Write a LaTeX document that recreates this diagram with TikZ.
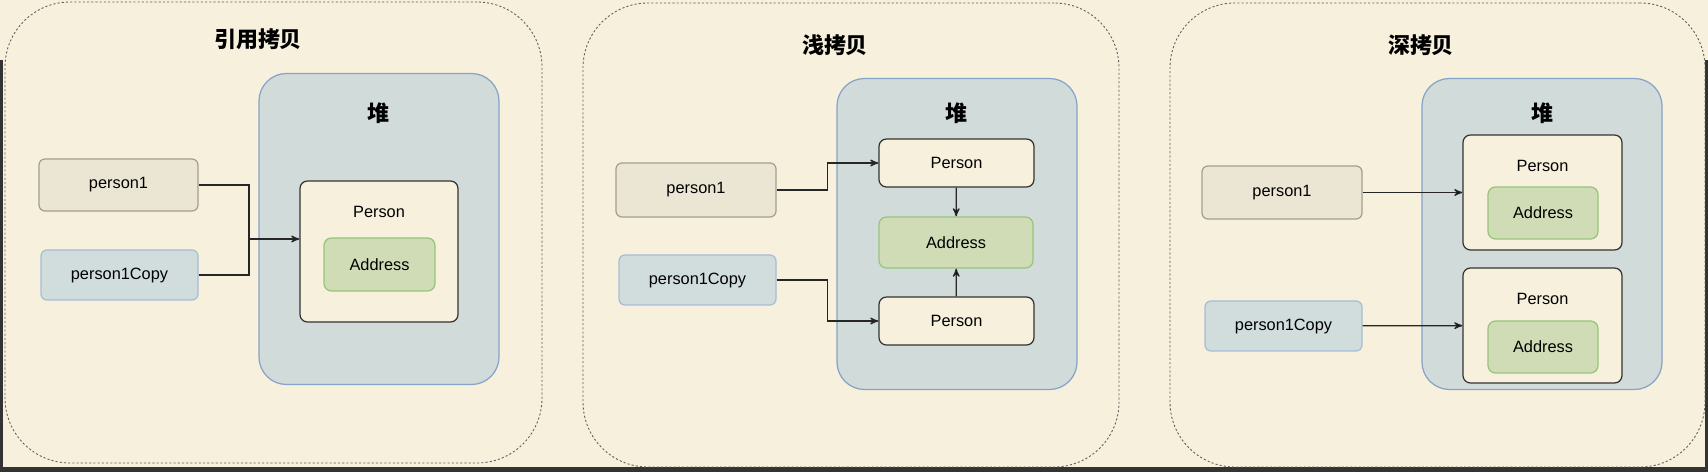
\documentclass[tikz,border=0pt]{standalone}
\usepackage{fontspec}
\setmainfont{Liberation Sans}
\newfontfamily\cjk{Noto Sans CJK SC}
\usetikzlibrary{arrows}
\definecolor{paper}{HTML}{F6F0DC}
\definecolor{edgegray}{HTML}{5E5E5E}
\definecolor{varfill}{HTML}{EBE6D4}
\definecolor{vardraw}{HTML}{A39E90}
\definecolor{copyfill}{HTML}{D1DCDD}
\definecolor{copydraw}{HTML}{A7BDD6}
\definecolor{heapfill}{HTML}{D1DBDA}
\definecolor{heapdraw}{HTML}{86A3C8}
\definecolor{addrfill}{HTML}{D0DCB6}
\definecolor{addrdraw}{HTML}{97C47B}

\begin{document}
\begin{tikzpicture}[>=stealth',x=0.02cm,y=-0.02cm,
	every node/.style={font=\fontsize{9.3}{11}\selectfont},
	box/.style 2 args={minimum width=#1*0.02cm,minimum height=#2*0.02cm,inner sep=0pt,line width=0.7pt},
	frame/.style 2 args={box={#1}{#2},draw=edgegray,dash pattern=on 1.2pt off 1.2pt,rounded corners=1.3cm,line width=0.5pt},
	heap/.style={box={240}{311},draw=heapdraw,fill=heapfill,rounded corners=0.55cm},
	var/.style 2 args={box={#1}{#2},draw=vardraw,fill=varfill,rounded corners=0.12cm},
	cpy/.style 2 args={box={#1}{#2},draw=copydraw,fill=copyfill,rounded corners=0.12cm},
	obj/.style 2 args={box={#1}{#2},draw=black!80,fill=paper,rounded corners=0.15cm},
	addr/.style 2 args={box={#1}{#2},draw=addrdraw,fill=addrfill,rounded corners=0.15cm},
	title/.style={font=\cjk\bfseries\fontsize{12.5}{14}\selectfont},
	link/.style={->,line width=0.7pt,draw=black!85}]
	\useasboundingbox (0,0) rectangle (1708,472);
	\fill[paper] (0,0) rectangle (1708,472);
	\fill[black!80] (0,467) rectangle (1708,472);
	\fill[black!80] (0,60) rectangle (3,472);
	\fill[black!80] (1705,60) rectangle (1708,472);

	% reference copy
	\node[frame={537}{461}] (frame1) at (273.5,232.5) {};
	\node[title] (title1) at (258,39) {引用拷贝};
	\node[heap] (heap1) at (379,229) {};
	\node[title] (heapt1) at (378,113) {堆};
	\node[var={159}{52}] (p1) at (118.5,185) {person1};
	\node[cpy={157}{50}] (c1) at (119.5,275) {person1Copy};
	\node[obj={158}{141}] (obj1) at (379,251.5) {};
	\node (objt1) at (379,212) {Person};
	\node[addr={111}{53}] (ad1) at (379.5,264.5) {Address};
	\coordinate (j1) at (249,239);
	\draw[line width=0.7pt,draw=black!85] (p1.east) -| (j1);
	\draw[line width=0.7pt,draw=black!85] (c1.east) -| (j1);
	\draw[link] (j1) -- (j1 -| obj1.west);

	% shallow copy
	\node[frame={536}{464}] (frame2) at (851,235) {};
	\node[title] (title2) at (835,45) {浅拷贝};
	\node[heap] (heap2) at (957,234) {};
	\node[title] (heapt2) at (956,113) {堆};
	\node[var={160}{54}] (p2) at (696,190) {person1};
	\node[cpy={157}{50}] (c2) at (697.5,280) {person1Copy};
	\node[obj={155}{48}] (pa2) at (956.5,163) {Person};
	\node[addr={154}{51}] (ad2) at (956,242.5) {Address};
	\node[obj={155}{48}] (pb2) at (956.5,321) {Person};
	\draw[link] (p2.east) -- ++(51,0) |- (pa2.west);
	\draw[link] (c2.east) -- ++(51,0) |- (pb2.west);
	\path[link] (pa2) edge (ad2)
		(pb2) edge (ad2);

	% deep copy
	\node[frame={535}{464}] (frame3) at (1437.5,235) {};
	\node[title] (title3) at (1421,45) {深拷贝};
	\node[heap] (heap3) at (1542,234) {};
	\node[title] (heapt3) at (1542,113) {堆};
	\node[var={160}{53}] (p3) at (1282,192.5) {person1};
	\node[cpy={157}{50}] (c3) at (1283.5,326) {person1Copy};
	\node[obj={159}{115}] (oa3) at (1542.5,192.5) {};
	\node (oat3) at (1542.5,166) {Person};
	\node[addr={110}{52}] (ada3) at (1543,213) {Address};
	\node[obj={159}{115}] (ob3) at (1542.5,325.5) {};
	\node (obt3) at (1542.5,299) {Person};
	\node[addr={110}{52}] (adb3) at (1543,347) {Address};
	\path[link] (p3) edge (oa3)
		(c3) edge (ob3);
\end{tikzpicture}
\end{document}
